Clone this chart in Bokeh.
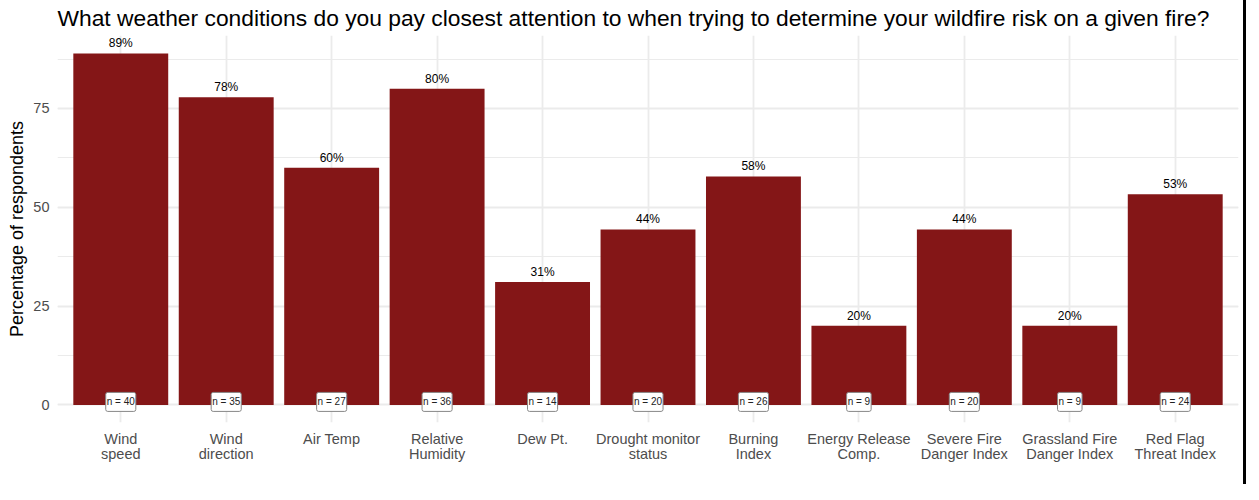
from bokeh.plotting import figure
from bokeh.models import (Range1d, SingleIntervalTicker, ColumnDataSource,
                          LinearAxis, FixedTicker)
from bokeh.embed import file_html
from bokeh.resources import INLINE
from bokeh.core.properties import value

# ---- data ----
categories = ["Wind speed", "Wind direction", "Air Temp", "Relative Humidity", "Dew Pt.",
              "Drought monitor status", "Burning Index", "Energy Release Comp.",
              "Severe Fire Danger Index", "Grassland Fire Danger Index", "Red Flag Threat Index"]
tick_labels = ["Wind\nspeed", "Wind\ndirection", "Air Temp", "Relative\nHumidity", "Dew Pt.",
               "Drought monitor\nstatus", "Burning\nIndex", "Energy Release\nComp.",
               "Severe Fire\nDanger Index", "Grassland Fire\nDanger Index", "Red Flag\nThreat Index"]
percents = [88.9, 77.8, 60.0, 80.0, 31.1, 44.4, 57.8, 20.0, 44.4, 20.0, 53.3]
pct_labels = ["89%", "78%", "60%", "80%", "31%", "44%", "58%", "20%", "44%", "20%", "53%"]
n_counts = [40, 35, 27, 36, 14, 20, 26, 9, 20, 9, 24]
y_ticks = [0, 25, 50, 75]

FONT = "Liberation Sans"
LABEL_GREY = "#4D4D4D"

positions = list(range(len(categories)))   # one slot per category
line1 = {i: t.split("\n")[0] for i, t in zip(positions, tick_labels)}
line2 = {i: (t.split("\n")[1] if "\n" in t else " ") for i, t in zip(positions, tick_labels)}

src = ColumnDataSource(dict(
    x=positions,
    cat=categories,
    pct=percents,
    pct_label=pct_labels,
    zero=[0] * len(categories),
    n_label=["n = %d" % n for n in n_counts],
))

p = figure(
    x_range=Range1d(-0.6, len(categories) - 0.4),
    y_range=Range1d(-4.45, 93.45),
    width=1243, height=484,
    output_backend="svg", toolbar_location=None,
    x_axis_location=None,
    title="What weather conditions do you pay closest attention to when trying to determine your wildfire risk on a given fire?",
)

p.min_border_left = 57
p.min_border_right = 5
p.min_border_top = 35
p.min_border_bottom = 62
p.outline_line_color = None
p.background_fill_color = "white"
p.border_fill_color = "white"
p.styles = {"box-shadow": "-3px 0 0 0 #000, 3px 0 0 0 #000, 0 -3px 0 0 #000"}

# title
p.title.text_font = FONT
p.title.text_font_size = "22.8px"
p.title.text_font_style = "normal"
p.title.text_color = "black"
p.title.align = "left"
p.title.vertical_align = "top"
p.title.offset = 0
p.title.standoff = 6

# y axis
ticker = SingleIntervalTicker(interval=25, num_minor_ticks=2)
p.yaxis.ticker = ticker
p.ygrid.ticker = ticker
p.yaxis.axis_line_color = None
p.yaxis.major_tick_line_color = None
p.yaxis.minor_tick_line_color = None
p.yaxis.major_tick_out = 0
p.yaxis.minor_tick_out = 0
p.yaxis.major_label_text_font = FONT
p.yaxis.major_label_text_font_size = "14.5px"
p.yaxis.major_label_text_color = LABEL_GREY
p.yaxis.major_label_standoff = 8
p.yaxis.axis_label = "Percentage of respondents"
p.yaxis.axis_label_text_font = FONT
p.yaxis.axis_label_text_font_size = "18px"
p.yaxis.axis_label_text_font_style = "normal"
p.yaxis.axis_label_text_color = "black"
p.yaxis.axis_label_standoff = 3


def make_xaxis(overrides, standoff):
    ax = LinearAxis(ticker=FixedTicker(ticks=positions))
    ax.axis_line_color = None
    ax.major_tick_line_color = None
    ax.minor_tick_line_color = None
    ax.major_tick_out = 0
    ax.major_tick_in = 0
    ax.minor_tick_out = 0
    ax.major_label_overrides = overrides
    ax.major_label_text_font = FONT
    ax.major_label_text_font_size = "14.5px"
    ax.major_label_text_color = LABEL_GREY
    ax.major_label_standoff = standoff
    return ax


p.add_layout(make_xaxis(line1, 8), "below")
p.add_layout(make_xaxis(line2, -4), "below")

# grids
p.xgrid.ticker = FixedTicker(ticks=positions)
p.ygrid.grid_line_color = "#EBEBEB"
p.ygrid.grid_line_width = 1.8
p.ygrid.minor_grid_line_color = "#EBEBEB"
p.ygrid.minor_grid_line_width = 1.2
p.xgrid.grid_line_color = "#EBEBEB"
p.xgrid.grid_line_width = 1.8
p.xgrid.minor_grid_line_color = None

# bars
p.vbar(x="x", top="pct", width=0.9, source=src, fill_color="#841617", line_color=None)

# percent labels
p.text(x="x", y="pct", text="pct_label", source=src, text_align="center",
       text_baseline="bottom", y_offset=-3, text_font_size="12px",
       text_font=value(FONT), text_color="black")

# n labels
p.text(x="x", y="zero", text="n_label", source=src, text_align="center",
       text_baseline="middle", y_offset=-3, text_font_size="10px",
       text_font=value(FONT), text_color="#222222",
       background_fill_color="white", border_line_color="#888888",
       border_line_width=1, padding=(1, 4), border_radius=2)

open("out.html", "w").write(file_html(p, INLINE))
